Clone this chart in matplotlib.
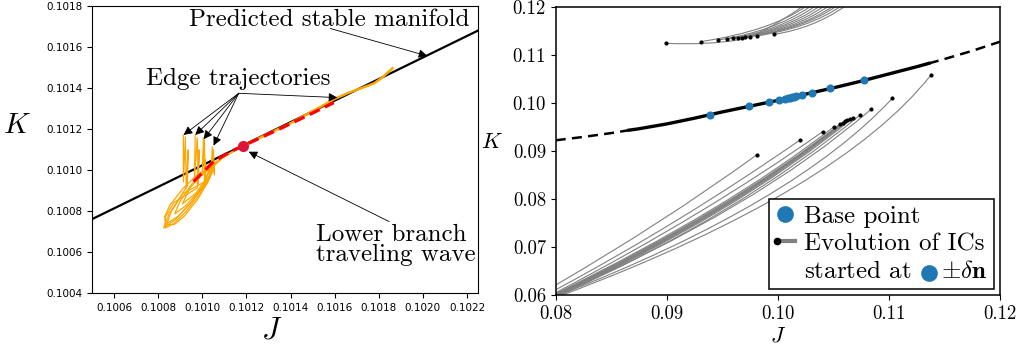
import matplotlib
matplotlib.use('Agg')
import matplotlib.pyplot as plt
from matplotlib.lines import Line2D
from matplotlib.legend_handler import HandlerBase
from matplotlib.path import Path
from matplotlib.patches import PathPatch
from matplotlib.transforms import IdentityTransform

plt.rcParams['font.family'] = 'cmr10'
plt.rcParams['mathtext.fontset'] = 'cm'
plt.rcParams['axes.formatter.use_mathtext'] = True
plt.rcParams['axes.unicode_minus'] = False

# ------------------------- Left panel data -------------------------
left_xticks = [0.1006, 0.1008, 0.1010, 0.1012, 0.1014, 0.1016, 0.1018, 0.1020, 0.1022]
left_yticks = [0.1004, 0.1006, 0.1008, 0.1010, 0.1012, 0.1014, 0.1016, 0.1018]

manifold_J = [0.1005, 0.10225]
manifold_K = [0.10076, 0.10168]

tw_J = [0.101186]
tw_K = [0.101118]

mean_J = [0.10096, 0.101051, 0.101127, 0.101186, 0.10137, 0.101476, 0.101567, 0.101596]
mean_K = [0.100943, 0.101041, 0.101089, 0.101118, 0.101210, 0.101265, 0.101313, 0.101328]

upper_orange_J = [0.101186, 0.101294, 0.101400, 0.101491, 0.101551, 0.101597, 0.101658,
                  0.101718, 0.101779, 0.101817, 0.101862]
upper_orange_K = [0.101119, 0.101174, 0.101228, 0.101282, 0.101317, 0.101345, 0.101374,
                  0.101398, 0.101423, 0.101452, 0.101496]

edge1_J = [0.100914, 0.100914, 0.100923, 0.100927, 0.100936, 0.100932, 0.100900, 0.100848,
           0.100825, 0.100878, 0.100943, 0.101002, 0.101043, 0.101064, 0.101052, 0.101004,
           0.100951, 0.100898, 0.100875, 0.100923, 0.100987, 0.101029, 0.101052, 0.101091,
           0.101136, 0.101186]
edge1_K = [0.101171, 0.100941, 0.101161, 0.100912, 0.101098, 0.100922, 0.100869, 0.100783,
           0.100717, 0.100758, 0.100833, 0.100913, 0.100983, 0.101044, 0.101028, 0.100990,
           0.100930, 0.100845, 0.100786, 0.100824, 0.100900, 0.100969, 0.101028, 0.101059,
           0.101088, 0.101117]

edge2_J = [0.100968, 0.100964, 0.100977, 0.100982, 0.100986, 0.100977, 0.100871, 0.100832,
           0.100832, 0.100870, 0.100925, 0.100984, 0.101035, 0.101052, 0.101040, 0.100995,
           0.100943, 0.100910, 0.100971, 0.101015, 0.101040, 0.101091, 0.101136, 0.101186]
edge2_K = [0.101171, 0.100951, 0.101156, 0.100932, 0.101098, 0.100912, 0.100841, 0.100770,
           0.100717, 0.100738, 0.100796, 0.100876, 0.100963, 0.101028, 0.101012, 0.100972,
           0.100911, 0.100835, 0.100887, 0.100955, 0.101012, 0.101059, 0.101088, 0.101117]

edge3_J = [0.101005, 0.101000, 0.101009, 0.101014, 0.101014, 0.101009, 0.100912, 0.100860,
           0.100839, 0.100890, 0.100955, 0.101008, 0.101028, 0.101091, 0.101136, 0.101186]
edge3_K = [0.101156, 0.100976, 0.101146, 0.100951, 0.101049, 0.100941, 0.100885, 0.100799,
           0.100738, 0.100774, 0.100849, 0.100935, 0.100996, 0.101059, 0.101088, 0.101117]

edge4_J = [0.101045, 0.101041, 0.101050, 0.101055, 0.101050, 0.101091, 0.101136, 0.101186]
edge4_K = [0.101112, 0.101000, 0.101098, 0.100976, 0.101024, 0.101059, 0.101088, 0.101117]

edge5_J = [0.101040, 0.100982, 0.100913, 0.100854, 0.100829, 0.100835, 0.100874, 0.100919,
           0.100978, 0.101027, 0.101040, 0.101091, 0.101136, 0.101186]
edge5_K = [0.101012, 0.100982, 0.100910, 0.100830, 0.100773, 0.100732, 0.100735, 0.100775,
           0.100856, 0.100944, 0.101012, 0.101059, 0.101088, 0.101117]

edge_J = [edge1_J, edge2_J, edge3_J, edge4_J, edge5_J]
edge_K = [edge1_K, edge2_K, edge3_K, edge4_K, edge5_K]

# ------------------------- Right panel data -------------------------
right_xticks = [0.08, 0.09, 0.10, 0.11, 0.12]
right_xlabels = ['0.08', '0.09', '0.10', '0.11', '0.12']
right_yticks = [0.06, 0.07, 0.08, 0.09, 0.10, 0.11, 0.12]
right_ylabels = ['0.06', '0.07', '0.08', '0.09', '0.10', '0.11', '0.12']

curve_dash_left_J = [0.0800, 0.0825, 0.0850, 0.0866]
curve_dash_left_K = [0.0922, 0.0929, 0.0937, 0.0943]
curve_solid_J = [0.0866, 0.0875, 0.0900, 0.0925, 0.0950, 0.0975, 0.1000, 0.1025,
                 0.1050, 0.1075, 0.1100, 0.1125, 0.1136]
curve_solid_K = [0.0943, 0.0946, 0.0956, 0.0968, 0.0981, 0.0993, 0.1005, 0.1018,
                 0.1031, 0.1045, 0.1060, 0.1075, 0.1082]
curve_dash_right_J = [0.1136, 0.1150, 0.1175, 0.1200]
curve_dash_right_K = [0.1082, 0.1091, 0.1108, 0.1127]

base_J = [0.093923, 0.097434, 0.099235, 0.100135, 0.100645, 0.100885, 0.101095,
          0.101275, 0.101455, 0.101635, 0.102146, 0.103046, 0.104696, 0.107757]
base_K = [0.09755, 0.09927, 0.10015, 0.10060, 0.10085, 0.10097, 0.10108,
          0.10117, 0.10127, 0.10136, 0.10163, 0.10211, 0.10298, 0.10473]

# trajectories as quadratic Bezier pieces: start, control, end (, control, end)
lower_J = [
    [0.09809, 0.0895, 0.0800],
    [0.101995, 0.0915, 0.0800],
    [0.10404, 0.0935, 0.0800],
    [0.10506, 0.0955, 0.0800],
    [0.10560, 0.0957, 0.0800],
    [0.10584, 0.0958, 0.0800],
    [0.10605, 0.0959, 0.0800],
    [0.10626, 0.0960, 0.0800],
    [0.10650, 0.0961, 0.0800],
    [0.10680, 0.0962, 0.0800],
    [0.10740, 0.0965, 0.0800],
    [0.10839, 0.0980, 0.0801],
    [0.11031, 0.1016, 0.0803],
    [0.11379, 0.10555, 0.0806],
]
lower_K = [
    [0.08914, 0.0748, 0.0621],
    [0.09226, 0.0754, 0.0611],
    [0.09400, 0.0768, 0.0605],
    [0.09503, 0.0778, 0.0603],
    [0.09559, 0.0776, 0.0602],
    [0.09587, 0.0775, 0.0601],
    [0.09614, 0.0774, 0.0600],
    [0.09642, 0.0772, 0.0599],
    [0.09663, 0.0771, 0.0598],
    [0.09691, 0.0769, 0.0597],
    [0.09746, 0.0766, 0.0596],
    [0.09864, 0.0779, 0.0600],
    [0.10093, 0.0792, 0.0600],
    [0.10578, 0.0817, 0.0600],
]

upper_J = [
    [0.08990, 0.0937, 0.0965, 0.09835, 0.1022],
    [0.09305, 0.09932, 0.1025],
    [0.09464, 0.09967, 0.1029],
    [0.09545, 0.10011, 0.1033],
    [0.09599, 0.10059, 0.1037],
    [0.09644, 0.10109, 0.1041],
    [0.09674, 0.10151, 0.1045],
    [0.09704, 0.10200, 0.1049],
    [0.09749, 0.10237, 0.1052],
    [0.09809, 0.10282, 0.1056],
    [0.09966, 0.10317, 0.1060],
]
upper_K = [
    [0.11237, 0.1120, 0.1131, 0.11384, 0.1200],
    [0.11272, 0.11491, 0.1200],
    [0.11307, 0.11483, 0.1200],
    [0.11327, 0.11490, 0.1200],
    [0.11341, 0.11502, 0.1200],
    [0.11355, 0.11518, 0.1200],
    [0.11355, 0.11522, 0.1200],
    [0.11362, 0.11535, 0.1200],
    [0.11376, 0.11547, 0.1200],
    [0.11390, 0.11556, 0.1200],
    [0.11424, 0.11547, 0.1200],
]

BLUE = '#1f77b4'
ORANGE = '#FFA500'
GREY = '#808080'

fig = plt.figure(figsize=(10.33, 3.5), dpi=100)

# ============================ Left panel ============================
ax1 = fig.add_axes([0.0891, 0.163, 0.3737, 0.820])
ax1.plot(manifold_J, manifold_K, color='k', lw=1.6, zorder=2)
for jj, kk in zip(edge_J, edge_K):
    ax1.plot(jj, kk, color=ORANGE, lw=0.9, zorder=3)
ax1.plot(upper_orange_J, upper_orange_K, color=ORANGE, lw=1.8, zorder=3)
ax1.plot(mean_J, mean_K, color='red', lw=2.3, ls=(0, (3.5, 1.8)), zorder=4)
ax1.plot(tw_J, tw_K, 'o', color='#DC143C', ms=7, zorder=5)

ax1.set_xlim(0.1005, 0.10225)
ax1.set_ylim(0.1004, 0.1018)
ax1.set_xticks(left_xticks)
ax1.set_yticks(left_yticks)
ax1.set_xticklabels(['%.4f' % v for v in left_xticks], fontfamily='DejaVu Sans', fontsize=7.5)
ax1.set_yticklabels(['%.4f' % v for v in left_yticks], fontfamily='DejaVu Sans', fontsize=7.5)
ax1.set_xlabel('$J$', fontsize=22)
ax1.set_ylabel('$K$', fontsize=21, rotation=0)
ax1.xaxis.set_label_coords(0.466, -0.084)
ax1.yaxis.set_label_coords(-0.194, 0.535)

akw = dict(arrowstyle='-|>', color='k', lw=0.6, mutation_scale=13, shrinkA=0, shrinkB=0)
ax1.text(0.101573, 0.101732, 'Predicted stable manifold', fontsize=18,
         ha='center', va='center')
ax1.annotate('', xy=(0.10202, 0.101556), xytext=(0.10158, 0.101690), arrowprops=akw)

ax1.text(0.101165, 0.101444, 'Edge trajectories', fontsize=18, ha='center', va='center')
for tj, tk in [(0.100915, 0.101171), (0.100968, 0.101171), (0.101006, 0.10115),
               (0.101051, 0.101119), (0.101612, 0.101353)]:
    ax1.annotate('', xy=(tj, tk), xytext=(0.101165, 0.101374), arrowprops=akw)

ax1.text(0.101514, 0.100634, 'Lower branch\ntraveling wave', fontsize=18,
         ha='left', va='center', linespacing=0.85)
ax1.annotate('', xy=(0.10121, 0.101089), xytext=(0.101847, 0.100748), arrowprops=akw)

# ============================ Right panel ============================
ax2 = fig.add_axes([0.538, 0.157, 0.430, 0.824])


def bezier_path(jj, kk):
    verts = list(zip(jj, kk))
    codes = [Path.MOVETO] + [Path.CURVE3] * (len(verts) - 1)
    return Path(verts, codes)


for jj, kk in list(zip(lower_J, lower_K)) + list(zip(upper_J, upper_K)):
    ax2.add_patch(PathPatch(bezier_path(jj, kk), fill=False, edgecolor=GREY, lw=0.8,
                            zorder=2))
    ax2.plot(jj[0], kk[0], 'o', color='k', ms=2.0, zorder=3)

ax2.plot(curve_dash_left_J, curve_dash_left_K, color='k', lw=1.8, ls=(0, (4, 2.5)), zorder=4)
ax2.plot(curve_solid_J, curve_solid_K, color='k', lw=2.4, zorder=4)
ax2.plot(curve_dash_right_J, curve_dash_right_K, color='k', lw=1.8, ls=(0, (4, 2.5)), zorder=4)
ax2.plot(base_J, base_K, 'o', color=BLUE, ms=4.8, zorder=5)

ax2.set_xlim(0.08, 0.12)
ax2.set_ylim(0.06, 0.12)
ax2.set_xticks(right_xticks)
ax2.set_xticklabels(right_xlabels, fontsize=13.5)
ax2.set_yticks(right_yticks)
ax2.set_yticklabels(right_ylabels, fontsize=13.5)
ax2.set_xlabel('$J$', fontsize=16)
ax2.set_ylabel('$K$', fontsize=16, rotation=0)
ax2.xaxis.set_label_coords(0.501, -0.108)
ax2.yaxis.set_label_coords(-0.144, 0.496)
for sp in ax2.spines.values():
    sp.set_linewidth(1.1)


class DotLineHandler(HandlerBase):
    def create_artists(self, legend, orig_handle, xdescent, ydescent, width, height,
                       fontsize, trans):
        y = height / 2.0 - ydescent
        x0 = -xdescent
        line = Line2D([x0 + 0.1 * width, x0 + width], [y, y], color=GREY, lw=3,
                      transform=trans)
        dot = Line2D([x0 + 0.1 * width], [y], marker='o', ms=4.5, color='k', ls='none',
                     transform=trans)
        return [line, dot]


tail = r'${\pm}\delta\mathbf{n}$'
h_base = Line2D([], [], marker='o', color=BLUE, ls='none', ms=11)
h_evol = Line2D([], [], color=GREY)
h_blank = Line2D([], [], ls='none')
leg = ax2.legend([h_base, h_evol, h_blank],
                 ['Base point', 'Evolution of ICs', r'started at $\quad{\pm}\delta\mathbf{n}$'],
                 handler_map={h_evol: DotLineHandler()},
                 loc='lower right', bbox_to_anchor=(0.986, 0.021), borderaxespad=0,
                 fontsize=18, fancybox=False, framealpha=1, edgecolor='k',
                 handlelength=0.8, handletextpad=0.35, labelspacing=0.2,
                 borderpad=0.25)
leg.get_frame().set_linewidth(1.1)

# blue marker inside the third legend label, placed just before "±δn"
fig.canvas.draw()
renderer = fig.canvas.get_renderer()
t3 = leg.get_texts()[2]
bb = t3.get_window_extent(renderer)
tmp = fig.text(0, 0, tail, fontsize=18)
tail_w = tmp.get_window_extent(renderer).width
tmp.remove()
dot_x = bb.x1 - tail_w - 12
dot_y = bb.y0 + 0.42 * bb.height
fig.add_artist(Line2D([dot_x], [dot_y], transform=IdentityTransform(),
                      marker='o', ms=11, color=BLUE, ls='none'))

fig.savefig('out.png', dpi=100)
